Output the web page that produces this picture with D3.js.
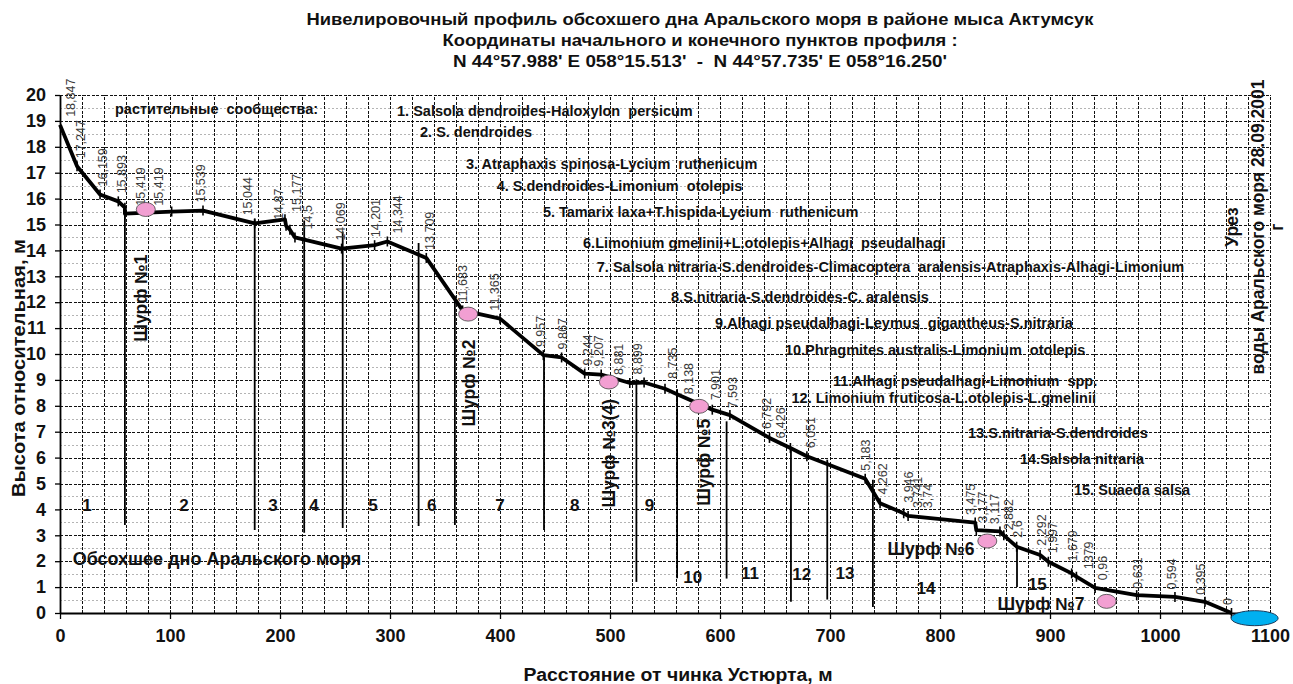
<!DOCTYPE html>
<html><head><meta charset="utf-8">
<script src="https://cdn.jsdelivr.net/npm/d3@7"></script>
<style>
body{margin:0;background:#fff}
svg{display:block}
text{font-family:"Liberation Sans",Arial,sans-serif}
</style>
</head><body>
<svg id="c" width="1293" height="684"></svg>
<script>
// ---------- DATA ----------
const titleLines = [
  "Нивелировочный профиль обсохшего дна Аральского моря в районе мыса Актумсук",
  "Координаты начального и конечного пунктов профиля :",
  "N 44°57.988' E 058°15.513'  -  N 44°57.735' E 058°16.250'"
];
const xTicks = [0,100,200,300,400,500,600,700,800,900,1000,1100];
const yTicks = [0,1,2,3,4,5,6,7,8,9,10,11,12,13,14,15,16,17,18,19,20];

// profile vertices: distance (m) and relative height (m)
const profileDist = [0,15.5,36.4,53,59,59,101.5,130,177,204.5,205.5,209,213.6,256,286,297.6,333,366,400,439.4,456,477,492,518,531,550,561,593,609,645,664,679,732,745.5,767,771,832,833,854.5,858,869.7,891,898.5,919.7,924,941,978.8,1013.6,1040.9,1065];
const profileElev = [18.847,17.247,16.159,15.893,15.65,15.419,15.5,15.539,15.044,15.2,14.95,14.8,14.5,14.069,14.201,14.344,13.709,11.683,11.365,9.957,9.867,9.244,9.207,8.881,8.899,8.66,8.45,7.85,7.64,6.76,6.37,6.051,5.183,4.24,3.85,3.75,3.49,3.2,3.15,3.0,2.56,2.24,1.98,1.53,1.4,0.97,0.69,0.62,0.43,0];
// survey-point labels
const labelDist  = [7,16,36.4,53.6,71,87,125,167.5,196,212,222,252.5,284,304,333,363,392,434,454,477,487,505,522,554,568.5,593.4,608.5,640,652.5,680,730,745,769,777,786,825,836,847,860,867.5,890,900,918,932,945,977,1008,1034,1059];
const labelValue = [18.847,17.247,16.159,15.893,15.419,15.419,15.539,15.044,14.87,15.177,14.5,14.069,14.201,14.344,13.709,11.683,11.365,9.957,9.867,9.244,9.207,8.881,8.899,8.735,8.138,7.901,7.593,6.792,6.426,6.051,5.183,4.262,3.946,3.741,3.74,3.475,3.177,3.117,2.882,2.6,2.292,1.997,1.679,1.379,0.96,0.631,0.594,0.395,0];
const labelText  = ["18,847","17,247","16,159","15,893","15,419","15,419","15,539","15,044","14,87","15,177","14,5","14,069","14,201","14,344","13,709","11,683","11,365","9,957","9,867","9,244","9,207","8,881","8,899","8,735","8,138","7,901","7,593","6,792","6,426","6,051","5,183","4,262","3,946","3,741","3,74","3,475","3,177","3,117","2,882","2,6","2,292","1,997","1,679","1379","0,96","0,631","0,594","0,395","0"];

// soil pits
const pitNames = ["Шурф №1","Шурф №2","Шурф №3(4)","Шурф №5","Шурф №6","Шурф №7"];
const pitDist  = [78,371,499,581,843,951.5];
const pitElev  = [15.58,11.54,8.92,7.98,2.78,0.45];
// water edge
const waterDist = [1086];
const waterElev = [-0.2];

// boundaries between plant communities
const boundaryDist   = [59,177,222,257,326,359,440,524,561,606,664.5,697.5,739,870];
const boundaryTop    = [15.419,15.2,15.15,14.73,14.29,12.25,9.957,9.02,8.63,7.4,6.38,5.92,5.14,2.6];
const boundaryBottom = [3.4,3.2,3.1,3.28,3.36,3.4,3.2,1.2,1.34,1.33,0.43,0.52,0.23,1.0];

// zone numbers
const zoneNames = ["1","2","3","4","5","6","7","8","9","10","11","12","13","14","15"];
const zoneDist  = [24.5,112.7,193.6,230.9,284.5,338,400,468,536,575.2,627.3,674.3,713.6,787.3,888.5];
const zoneElev  = [4.16,4.16,4.16,4.16,4.16,4.16,4.16,4.16,4.16,1.39,1.55,1.49,1.55,0.98,1.1];

// plant communities legend
const communityHeader = "растительные  сообщества:";
const communities = [
  "1. Salsola dendroides-Haloxylon  persicum",
  "2. S. dendroides",
  "3. Atraphaxis spinosa-Lycium  ruthenicum",
  "4. S.dendroides-Limonium  otolepis",
  "5. Tamarix laxa+T.hispida-Lycium  ruthenicum",
  "6.Limonium gmelinii+L.otolepis+Alhagi  pseudalhagi",
  "7. Salsola nitraria-S.dendroides-Climacoptera  aralensis-Atraphaxis-Alhagi-Limonium",
  "8.S.nitraria-S.dendroides-C. aralensis",
  "9.Alhagi pseudalhagi-Leymus  gigantheus-S.nitraria",
  "10.Phragmites australis-Limonium  otolepis",
  "11.Alhagi pseudalhagi-Limonium  spp.",
  "12. Limonium fruticosa-L.otolepis-L.gmelinii",
  "13.S.nitraria-S.dendroides",
  "14.Salsola nitraria",
  "15. Suaeda salsa"
];
const seabedText = "Обсохшее дно Аральского моря";
const waterText = ["Урез", "воды Аральского моря 28.09.2001", "г"];
const xTitle = "Расстояние от чинка Устюрта, м";
const yTitle = "Высота относительная, м";

// ---------- DRAWING ----------
const svg = d3.select("#c");
const x = d3.scaleLinear().domain([0,1100]).range([60,1270]);
const y = d3.scaleLinear().domain([0,20]).range([613,95]);
const sx = v => Math.round(x(v)) + 0.5;
const sy = v => Math.round(y(v)) + 0.5;

const grid = svg.append("g").attr("shape-rendering","crispEdges");
// minor horizontal grid (0.5)
grid.append("g").selectAll("line").data(d3.range(0.5,20,1)).join("line")
  .attr("x1",x(0)).attr("x2",x(1100)).attr("y1",d=>sy(d)).attr("y2",d=>sy(d))
  .attr("stroke","#b4b4b4").attr("stroke-width",1).attr("stroke-dasharray","2,2");
// vertical grid every 20 m
grid.append("g").selectAll("line").data(d3.range(20,1101,20)).join("line")
  .attr("x1",d=>sx(d)).attr("x2",d=>sx(d)).attr("y1",y(0)).attr("y2",y(20))
  .attr("stroke","#111").attr("stroke-width",1.2).attr("stroke-dasharray","3,1.5");
// horizontal grid every 1 m
grid.append("g").selectAll("line").data(yTicks.slice(1)).join("line")
  .attr("x1",x(0)).attr("x2",x(1100)).attr("y1",d=>sy(d)).attr("y2",d=>sy(d))
  .attr("stroke","#111").attr("stroke-width",1.2).attr("stroke-dasharray","3,1.5");

// axes
const xAxis = svg.append("g").attr("transform",`translate(0,${y(0)})`)
  .call(d3.axisBottom(x).tickValues(xTicks).tickFormat(d3.format("d")).tickSize(6).tickPadding(10).tickSizeOuter(0));
const yAxis = svg.append("g").attr("transform",`translate(${x(0)},0)`)
  .call(d3.axisLeft(y).tickValues(yTicks).tickFormat(d3.format("d")).tickSize(5).tickPadding(9).tickSizeOuter(0));
[xAxis,yAxis].forEach(g=>{
  g.select(".domain").attr("stroke","#000").attr("stroke-width",1.8);
  g.selectAll(".tick line").attr("stroke","#000").attr("stroke-width",1.3);
  g.selectAll(".tick text").attr("font-family","Liberation Sans, Arial, sans-serif")
    .attr("font-size",18).attr("font-weight","bold").attr("fill","#111");
});

// boundary lines
svg.append("g").selectAll("line").data(boundaryDist).join("line")
  .attr("x1",d=>x(d)).attr("x2",d=>x(d))
  .attr("y1",(d,i)=>y(boundaryTop[i])).attr("y2",(d,i)=>y(boundaryBottom[i]))
  .attr("stroke","#000").attr("stroke-width",1.8);

// profile line
const pts = profileDist.map((d,i)=>[d,profileElev[i]]);
svg.append("path").datum(pts)
  .attr("d",d3.line().x(d=>x(d[0])).y(d=>y(d[1])))
  .attr("fill","none").attr("stroke","#000").attr("stroke-width",3.8).attr("stroke-linejoin","round");
// survey ticks
svg.append("g").selectAll("line").data(pts.slice(1)).join("line")
  .attr("x1",d=>x(d[0])).attr("x2",d=>x(d[0])).attr("y1",d=>y(d[1])-5).attr("y2",d=>y(d[1])+5)
  .attr("stroke","#000").attr("stroke-width",1.6);

// point labels
svg.append("g").selectAll("text").data(labelDist).join("text")
  .attr("transform",(d,i)=>`translate(${x(d)+3},${y(labelValue[i])-8}) rotate(-90)`)
  .attr("dy","0.35em").attr("font-size",12.5).attr("fill","#3a3a3a")
  .text((d,i)=>labelText[i]);

// pits
svg.append("g").selectAll("ellipse").data(pitDist).join("ellipse")
  .attr("cx",d=>x(d)).attr("cy",(d,i)=>y(pitElev[i])).attr("rx",9.5).attr("ry",7)
  .attr("fill","#f29fd2").attr("stroke","#444").attr("stroke-width",0.8);
svg.append("g").selectAll("ellipse").data(waterDist).join("ellipse")
  .attr("cx",d=>x(d)).attr("cy",(d,i)=>y(waterElev[i])).attr("rx",23.5).attr("ry",7.5)
  .attr("fill","#00b0f0").attr("stroke","#1a3a5a").attr("stroke-width",1);

// pit labels (annotation anchors in data units)
const pitLabelAt = [[73.6,12.16,true],[371.8,8.88,true],[499,6.17,true],[585.5,5.82,true],[791.8,2.46,false],[891.8,0.37,false]];
svg.append("g").selectAll("text").data(pitNames).join("text")
  .attr("transform",(d,i)=>{const a=pitLabelAt[i];return `translate(${x(a[0])},${y(a[1])})`+(a[2]?" rotate(-90)":"");})
  .attr("text-anchor","middle").attr("dy","0.35em")
  .attr("font-size",17.5).attr("font-weight","bold").attr("fill","#111")
  .text(d=>d);

// zone numbers
svg.append("g").selectAll("text").data(zoneNames).join("text")
  .attr("x",(d,i)=>x(zoneDist[i])).attr("y",(d,i)=>y(zoneElev[i]))
  .attr("text-anchor","middle").attr("dy","0.35em")
  .attr("font-size",17).attr("font-weight","bold").attr("fill","#111")
  .text(d=>d);

// seabed text
svg.append("text").attr("x",x(11.5)).attr("y",y(2.1)).attr("dy","0.35em")
  .attr("font-size",18).attr("font-weight","bold").attr("fill","#111").text(seabedText);

// community legend (anchors: start distance, baseline height)
const commAt = [[306.4,19.2],[327.3,18.36],[369,17.13],[397,16.28],[439,15.28],[475.5,14.11],[488,13.15],[555.5,12.02],[595.5,10.99],[659,9.98],[702.7,8.76],[665,8.12],[825.5,6.76],[872.7,5.77],[921.8,4.57]];
svg.append("g").selectAll("text").data(communities).join("text")
  .attr("x",(d,i)=>x(commAt[i][0])).attr("y",(d,i)=>y(commAt[i][1]))
  .attr("font-size",14.5).attr("font-weight","bold").attr("fill","#111")
  .style("white-space","pre").attr("xml:space","preserve")
  .text(d=>d);
svg.append("text").attr("x",x(50)).attr("y",y(19.27))
  .attr("font-size",14.5).attr("font-weight","bold").attr("fill","#111")
  .attr("xml:space","preserve").style("white-space","pre").text(communityHeader);

// water edge vertical text
const wt = svg.append("text").attr("transform","translate(1232,227) rotate(-90)")
  .attr("text-anchor","middle").attr("font-size",17.5).attr("font-weight","bold").attr("fill","#111");
waterText.forEach((t,i)=>{
  wt.append("tspan").attr("x",0).attr("y",[0,26,45][i]).attr("dy","0.35em").text(t);
});

// axis titles
svg.append("text").attr("x",678).attr("y",675).attr("dy","0.35em").attr("text-anchor","middle")
  .attr("font-size",18).attr("font-weight","bold").attr("fill","#111")
  .attr("textLength",309).attr("lengthAdjust","spacingAndGlyphs").text(xTitle);
svg.append("text").attr("transform","translate(19,368) rotate(-90)").attr("dy","0.35em")
  .attr("text-anchor","middle").attr("font-size",18).attr("font-weight","bold").attr("fill","#111")
  .attr("textLength",258).attr("lengthAdjust","spacingAndGlyphs").text(yTitle);

// title
const titleW = [787,515,494];
const titleY = [19,40,61];
titleLines.forEach((t,i)=>{
  svg.append("text").attr("x",700).attr("y",titleY[i]).attr("dy","0.35em").attr("text-anchor","middle")
    .attr("font-size",16).attr("font-weight","bold").attr("fill","#111")
    .attr("textLength",titleW[i]).attr("lengthAdjust","spacingAndGlyphs")
    .attr("xml:space","preserve").text(t);
});
</script>
</body></html>
